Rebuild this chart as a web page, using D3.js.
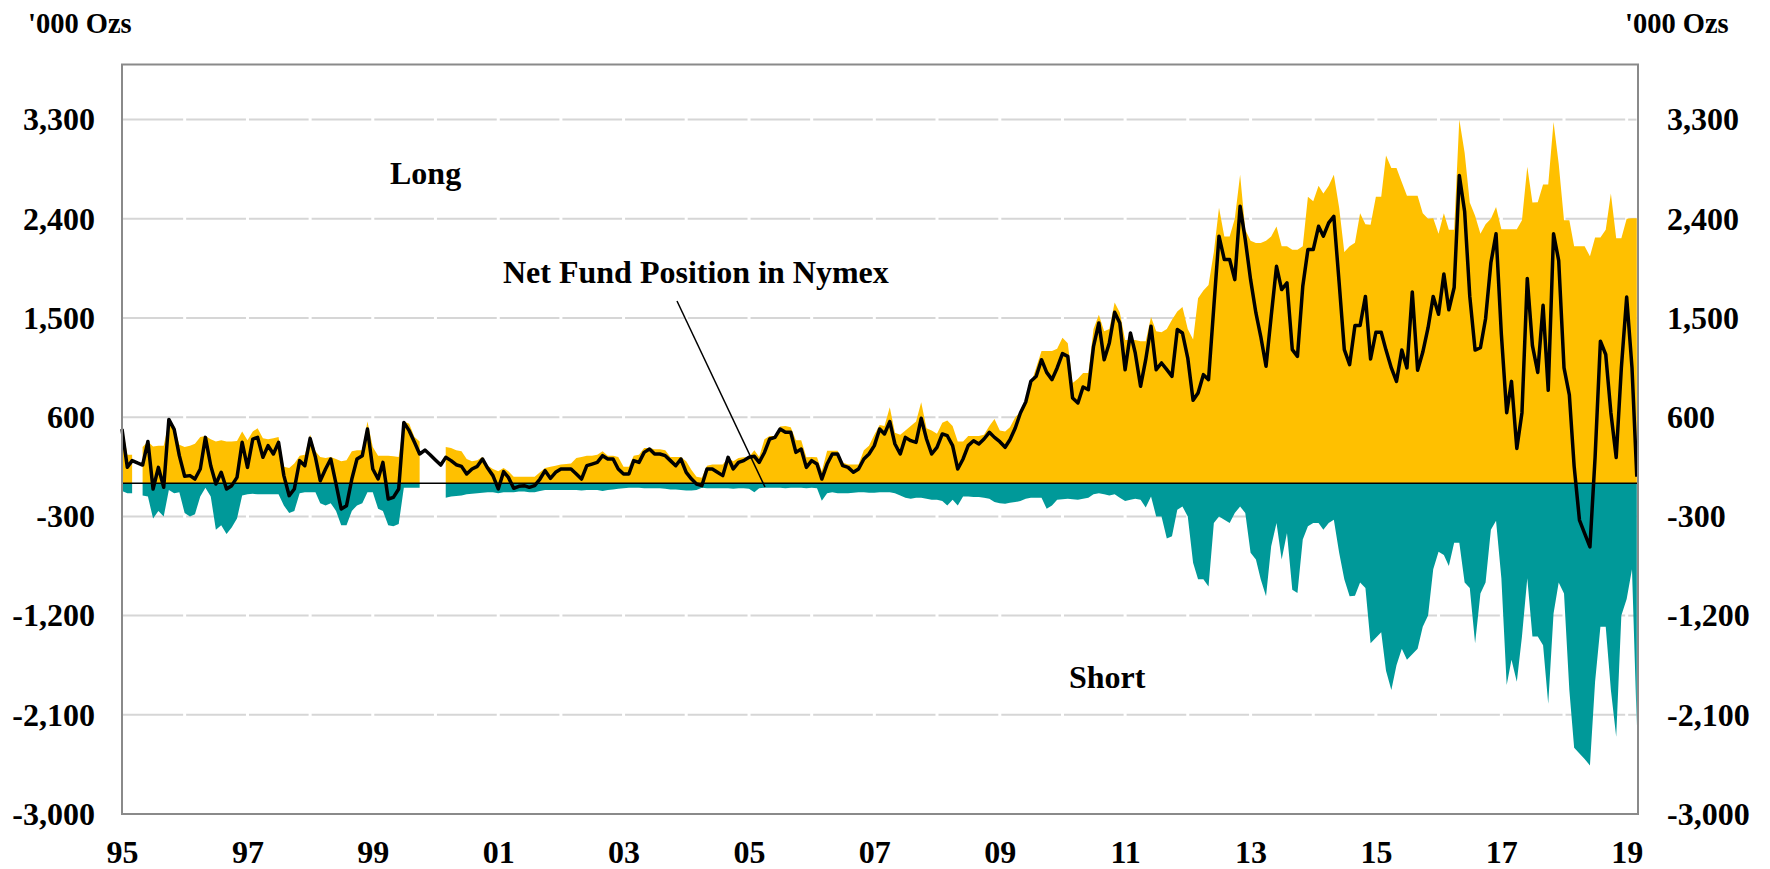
<!DOCTYPE html>
<head>
  <meta charset="utf-8">
  <script src="https://d3js.org/d3.v7.min.js"></script>
  <style>
  body,html {margin:0; background:#fff;}
  svg text {font-family:"Liberation Serif","Times New Roman",serif; font-weight:bold; fill:#000;}
  </style>
</head>
<body>
<script>

  // monthly readings, Jan 1995 .. Mar 2019, '000 ozs (null = no data)
  const longPos = [
    538, 260, 260, null, 330, 380, 335, 340, 340, 560, 520, 350,          // 95
    330, 340, 360, 420, 430, 400, 380, 390, 380, 380, 385, 470,
    390, 470, 500, 410, 400, 410, 420, 150, 140, 180, 250, 260,
    440, 290, 240, 230, 240, 220, 200, 210, 290, 300, 300, 560,
    330, 250, 250, 250, 245, 240, 560, 540, 420, 380, null, null,         // 99
    null, null, 330, 320, 300, 290, 220, 200, 210, 240, 160, 130,
    110, 140, 110, 60, 60, 60, 60, 60, 100, 140, 150, 160,
    170, 175, 180, 230, 240, 250, 250, 260, 290, 250, 250, 240,
    150, 150, 250, 260, 320, 320, 310, 310, 300, 240, 240, 240,
    200, 120, 60, 50, 160, 170, 170, 170, 230, 200, 230, 236,
    240, 300, 240, 400, 430, 430, 515, 520, 510, 390, 390, 236,           // 05
    240, 236, 110, 296, 296, 296, 190, 170, 170, 170, 300, 342,
    440, 530, 520, 690, 460, 440, 480, 520, 560, 735, 500, 480,
    450, 550, 570, 520, 380, 380, 430, 430, 430, 440, 520, 584,
    480, 470, 510, 600, 650, 750, 900, 1050, 1200, 1200, 1200, 1220,
    1320, 1270, 910, 950, 1000, 1000, 1400, 1530, 1380, 1400, 1640, 1550, // 10
    1300, 1300, 1300, 1290, 1290, 1510, 1380, 1370, 1400, 1485, 1560, 1600,
    1400, 1304, 1680, 1750, 1800, 2100, 2500, 2240, 2240, 2400, 2800, 2300,
    2200, 2180, 2180, 2200, 2240, 2330, 2150, 2150, 2120, 2120, 2150, 2600,
    2560, 2700, 2630, 2700, 2800, 2500, 2100, 2150, 2183, 2450, 2350, 2345,
    2600, 2600, 2974, 2860, 2860, 2731, 2610, 2610, 2610, 2450, 2400, 2406, // 15
    2264, 2450, 2300, 2300, 3300, 3000, 2548, 2427, 2264, 2350, 2400, 2508,
    2305, 2305, 2305, 2305, 2386, 2873, 2548, 2550, 2711, 2711, 3279, 2900,
    2386, 2386, 2150, 2150, 2150, 2060, 2230, 2230, 2300, 2630, 2224, 2224,
    2400, 2406, 2406
  ];

  const shortPos = [
    -70, -90, -90, null, -110, -120, -320, -250, -300, -60, -90, -80,
    -270, -300, -280, -120, -40, -120, -420, -380, -460, -400, -320, -110,
    -100, -95, -100, -100, -100, -100, -100, -200, -270, -250, -90, -80,
    -80, -80, -180, -200, -180, -250, -380, -380, -250, -200, -180, -80,
    -80, -230, -250, -380, -390, -370, -40, -40, -40, -40, null, null,
    null, null, -130, -120, -115, -110, -100, -95, -90, -85, -80, -80,
    -90, -80, -80, -80, -75, -75, -80, -80, -70, -60, -60, -60,
    -60, -60, -60, -60, -65, -60, -60, -60, -70, -60, -55, -50,
    -45, -40, -40, -40, -45, -45, -45, -45, -50, -55, -55, -60,
    -65, -65, -60, -40, -45, -45, -45, -45, -45, -50, -45, -45,
    -50, -80, -45, -40, -40, -40, -40, -45, -40, -40, -40, -45,
    -40, -45, -157, -90, -80, -90, -90, -90, -85, -80, -80, -85,
    -85, -80, -80, -80, -90, -110, -130, -140, -130, -130, -140, -150,
    -150, -160, -200, -150, -200, -120, -120, -125, -125, -130, -140, -170,
    -180, -185, -175, -170, -160, -140, -130, -130, -130, -230, -200, -150,
    -145, -140, -145, -150, -140, -130, -100, -90, -100, -110, -100, -130,
    -160, -150, -140, -150, -220, -120, -300, -300, -500, -480, -240, -210,
    -300, -720, -870, -870, -935, -360, -300, -330, -360, -270, -210, -270,
    -630, -690, -870, -1025, -570, -360, -690, -450, -965, -995, -510, -390,
    -360, -360, -420, -360, -330, -630, -870, -1025, -1020, -900, -950, -1450,
    -1400, -1350, -1700, -1875, -1650, -1500, -1600, -1550, -1500, -1300, -1200, -780,
    -620, -650, -750, -540, -540, -900, -950, -1450, -1000, -900, -420, -340,
    -860, -1830, -1600, -1800, -1390, -860, -1390, -1390, -1470, -2000, -1180, -900,
    -1000, -1875, -2400, -2450, -2500, -2560, -1800, -1300, -1300, -1875, -2300, -1200,
    -1050, -780, -2200
  ];

  const netPos = [
    493, 145, 206, 185, 166, 380, -51, 145, -36, 580, 490, 251,
    64, 70, 39, 130, 417, 160, -6, 100, -51, -21, 54, 372,
    145, 402, 417, 236, 342, 266, 372, 70, -112, -51, 206, 160,
    408, 236, 24, 130, 221, -6, -233, -203, 39, 221, 251, 493,
    130, 39, 190, -142, -127, -51, 553, 478, 372, 266, 302, 260,
    212, 166, 236, 206, 169, 154, 85, 130, 154, 221, 136, 70,
    -51, 106, 54, -45, -27, -21, -36, -21, 39, 115, 45, 100,
    130, 130, 130, 85, 39, 160, 175, 190, 251, 221, 221, 130,
    85, 85, 206, 190, 281, 311, 266, 266, 251, 206, 160, 221,
    100, 39, -6, -21, 130, 130, 100, 70, 236, 130, 190, 206,
    236, 245, 190, 280, 402, 417, 493, 463, 463, 281, 311, 145,
    206, 175, 39, 175, 266, 266, 160, 145, 100, 130, 221, 266,
    342, 493, 448, 560, 357, 266, 417, 387, 372, 590, 402, 266,
    327, 448, 432, 342, 130, 221, 342, 387, 357, 402, 463, 417,
    378, 327, 396, 502, 638, 738, 926, 971, 1122, 1007, 941, 1047,
    1177, 1152, 774, 729, 874, 850, 1243, 1455, 1122, 1274, 1552, 1455,
    1031, 1364, 1183, 880, 1122, 1425, 1031, 1092, 1031, 971, 1395, 1364,
    1137, 753, 820, 986, 941, 1606, 2242, 2030, 2030, 1848, 2514, 2211,
    1848, 1546, 1334, 1062, 1516, 1969, 1758, 1818, 1213, 1152, 1788, 2121,
    2121, 2332, 2242, 2363, 2423, 1818, 1213, 1077, 1432, 1432, 1696, 1128,
    1371, 1371, 1209, 1047, 925, 1209, 1047, 1737, 1027, 1189, 1412, 1696,
    1534, 1899, 1575, 1777, 2792, 2467, 1696, 1209, 1230, 1493, 2001, 2264,
    1351, 641, 925, 317, 641, 1859, 1250, 1006, 1615, 844, 2264, 2021,
    1047, 803, 154, -333, -454, -576, 235, 1290, 1169, 641, 235, 1047,
    1690, 1050, 60
  ];

  const yTicks = [-3000, -2100, -1200, -300, 600, 1500, 2400, 3300];
  const xTickYears = d3.range(1995, 2020, 2);
  const unitLabel = "'000 Ozs";

  const width = 1770, height = 869;
  const start = new Date(1995, 0, 1);
  const end = new Date(2019, 2, 8);

  const x = d3.scaleTime().domain([start, end]).range([122, 1638]);
  const y = d3.scaleLinear().domain([-3000, 3800]).range([814, 64.5]);

  const rows = netPos.map((v, i) => ({
    date: d3.timeMonth.offset(start, i),
    long: longPos[i], short: shortPos[i], net: v
  }));

  const svg = d3.select("body").append("svg")
    .attr("width", width)
    .attr("height", height);

  // GRIDLINES (broken at every year)
  const edges = d3.timeYear.range(start, new Date(2019, 1, 1)).map(x).concat([1638]);
  const segs = [];
  yTicks.filter(t => t > -3000).forEach(t => {
    for (let i = 0; i < edges.length - 1; i++) {
      segs.push({y: y(t), x1: i == 0 ? edges[0] : edges[i] + 1.5, x2: edges[i + 1] - 1.5});
    }
  });
  svg.append("g").selectAll("line").data(segs).enter().append("line")
    .attr("x1", d => d.x1).attr("x2", d => d.x2)
    .attr("y1", d => d.y).attr("y2", d => d.y)
    .attr("stroke", "#d6d6d6").attr("stroke-width", 2);

  // AREAS
  const longArea = d3.area()
    .defined(d => d.long !== null)
    .x(d => x(d.date)).y0(y(0)).y1(d => y(d.long));
  const shortArea = d3.area()
    .defined(d => d.short !== null)
    .x(d => x(d.date)).y0(y(0)).y1(d => y(d.short));

  svg.append("path").datum(rows).attr("d", longArea).attr("fill", "#FFC000");
  svg.append("path").datum(rows).attr("d", shortArea).attr("fill", "#009999");

  svg.append("line")
    .attr("x1", 122).attr("x2", 1638).attr("y1", y(0)).attr("y2", y(0))
    .attr("stroke", "#000").attr("stroke-width", 1.5);

  // NET LINE
  const netLine = d3.line().x(d => x(d.date)).y(d => y(d.net));
  svg.append("path").datum(rows).attr("d", netLine)
    .attr("fill", "none").attr("stroke", "#000")
    .attr("stroke-width", 3.5).attr("stroke-linejoin", "round");

  // FRAME
  svg.append("rect")
    .attr("x", 122).attr("y", 64.5).attr("width", 1516).attr("height", 749.5)
    .attr("fill", "none").attr("stroke", "#8a8a8a").attr("stroke-width", 2);

  // AXES
  const fmt = v => d3.format(",")(v).replace("\u2212", "-");
  const styleAxis = g => {
    g.select(".domain").remove();
    g.selectAll("text").attr("font-size", 32).attr("font-family", null).attr("fill", "#000");
  };

  svg.append("g").attr("transform", "translate(122,0)")
    .call(d3.axisLeft(y).tickValues(yTicks).tickSize(0).tickPadding(27).tickFormat(fmt))
    .call(styleAxis);
  svg.append("g").attr("transform", "translate(1638,0)")
    .call(d3.axisRight(y).tickValues(yTicks).tickSize(0).tickPadding(29).tickFormat(fmt))
    .call(styleAxis);
  svg.append("g").attr("transform", "translate(0,814)")
    .call(d3.axisBottom(x).tickValues(xTickYears.map(yr => new Date(yr, 0, 1)))
      .tickSize(0).tickPadding(26).tickFormat(d3.timeFormat("%y")))
    .call(styleAxis);

  // LABELS
  svg.append("text").attr("x", 28).attr("y", 33).attr("font-size", 28.5).text(unitLabel);
  svg.append("text").attr("x", 1625).attr("y", 33).attr("font-size", 28.5).text(unitLabel);

  svg.append("text").attr("x", 390).attr("y", 184).attr("font-size", 32).text("Long");
  svg.append("text").attr("x", 1069).attr("y", 688).attr("font-size", 32).text("Short");
  svg.append("text").attr("x", 503).attr("y", 283).attr("font-size", 32).text("Net Fund Position in Nymex");

  svg.append("line")
    .attr("x1", 677).attr("y1", 301).attr("x2", 765).attr("y2", 487)
    .attr("stroke", "#000").attr("stroke-width", 1.5);

</script>
</body>
